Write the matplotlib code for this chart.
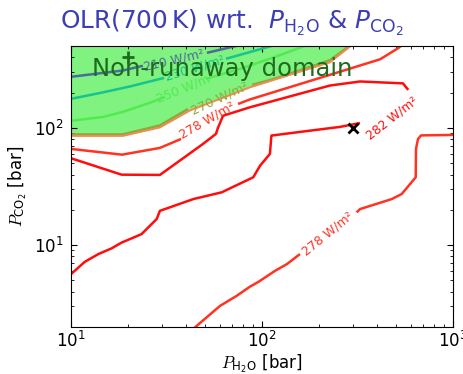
import matplotlib
matplotlib.use("Agg")
import matplotlib.pyplot as plt

# ---- OLR contour levels (P_H2O [bar], P_CO2 [bar]); each level is split at its label gaps
olr210 = [([10.0, 18.7, 23.8], [273, 309, 339]),
          ([51.5, 65.6, 86.0], [437, 480, 532])]
olr230 = [([10.0, 14.7, 20.4, 30.7], [177, 201, 226, 267]),
          ([64.8, 104, 129], [389, 483, 532])]
olr250 = [([10.0, 14.7, 18.7, 25.9, 31.1], [115, 124, 137, 164, 184]),
          ([50.9, 76.7, 110, 158, 186], [262, 319, 389, 483, 532])]
olr270 = [([10.0, 18.7, 29.2, 41.0], [88, 88, 105, 145]),
          ([88.7, 114, 227, 307], [233, 260, 378, 543])]
olr278_upper = [([10.0, 18.5, 29.2, 37.7], [66.2, 59.1, 67.5, 80.5]),
                ([74.9, 86.5, 227, 415, 515, 561], [160, 175, 284, 385, 478, 532])]
olr282 = [([10.0, 18.4, 29.2, 49.1, 57.4, 58.8, 62.5, 86.5, 227, 326, 547, 583],
           [55.1, 39.9, 39.7, 73.0, 88.9, 100, 127, 150, 230, 249, 240, 211]),
          ([326, 256, 158, 112, 110, 97.7, 90.0, 61.5, 43.7, 29.2, 28.1, 23.4,
            18.4, 16.3, 13.9, 11.8, 10.0],
           [110, 102, 92.4, 86.0, 60.0, 47.6, 37.9, 28.2, 24.7, 19.6, 16.7, 12.4,
            10.5, 9.37, 8.38, 7.19, 5.65])]
olr278_lower = [([44.0, 60.3, 73.7, 86.5, 95.3, 117, 135, 158],
                 [1.95, 3.03, 3.69, 4.42, 4.83, 6.03, 6.88, 8.38]),
                ([313, 326, 478, 539, 638, 640, 656, 680, 988, 1090],
                 [19.0, 20.3, 24.7, 27.3, 37.9, 66.2, 80.5, 86.3, 87.1, 87.1])]

# runaway boundary: the non-runaway domain lies above it
boundary_x = [10.0, 18.7, 29.2, 42.0, 86.5, 227, 310]
boundary_y = [85.5, 85.5, 101, 141, 222, 363, 543]

# contour labels: (value, P_H2O, P_CO2, angle)
label_values = [210, 230, 250, 270, 278, 282, 278]
label_x = [34.6, 44.6, 40.0, 60.3, 51.5, 482, 222]
label_y = [381, 326, 220, 180, 117, 122, 12.4]
label_angle = [13, 17, 22, 25, 30, 38, 39]

marker_planet = (300, 100)
marker_ref = (20, 400)

colors = {210: '#4d6a9c', 230: '#17c48e', 250: '#52ea52', 270: '#8fa83c',
          278: '#ff3322', 282: '#ff0d0d'}
boundary_color = '#f28a52'
fill_color = '#7ff27f'

fig = plt.figure(figsize=(4.64, 3.74), dpi=100)
ax = fig.add_axes([71 / 464, 1 - 327 / 374, 382 / 464, 281 / 374])
ax.set_xscale('log')
ax.set_yscale('log')
ax.set_xlim(10, 1000)
ax.set_ylim(2, 500)

ax.fill_between(boundary_x, boundary_y, 1e4, color=fill_color, lw=0, zorder=1)

for level, pieces in [(210, olr210), (230, olr230), (250, olr250), (270, olr270),
                      (278, olr278_upper), (282, olr282), (278, olr278_lower)]:
    for xs, ys in pieces:
        ax.plot(xs, ys, color=colors[level], lw=1.8, zorder=2,
                solid_capstyle='butt')

ax.plot(boundary_x, boundary_y, color=boundary_color, lw=1.4, zorder=2.5)

for v, x, y, a in zip(label_values, label_x, label_y, label_angle):
    ax.text(x, y, f'{v} W/m²', color=colors[v], fontsize=9, rotation=a,
            ha='center', va='center', rotation_mode='anchor', zorder=3)

ax.text(62, 280, 'Non-runaway domain', color='#1e6b1e', fontsize=17.5,
        ha='center', va='baseline', zorder=5)
ax.plot(*marker_ref, marker='+', color='#1e6b1e', ms=8, mew=2, zorder=6)
ax.plot(*marker_planet, marker='x', color='black', ms=7, mew=2, zorder=6)

ax.tick_params(which='both', direction='in', top=True, right=True)
ax.tick_params(which='major', length=4, labelsize=12)
ax.tick_params(which='minor', length=2)
ax.tick_params(axis='x', which='major', pad=2.5)
ax.tick_params(axis='y', which='major', pad=5)

ax.set_xlabel(r'$P_{\mathregular{H_2O}}$ [bar]', fontsize=12,
              math_fontfamily='cm', labelpad=1)
ax.set_ylabel(r'$P_{\mathregular{CO_2}}$ [bar]', fontsize=12,
              math_fontfamily='cm')
fig.text(0.5, 1 - 29 / 374,
         r'OLR(700$\,$K) wrt.  $P_{\mathregular{H_2O}}$ & $P_{\mathregular{CO_2}}$',
         color='#3d3db5', fontsize=17.8, math_fontfamily='dejavusans',
         ha='center', va='baseline')

fig.savefig('out.png', dpi=100)
